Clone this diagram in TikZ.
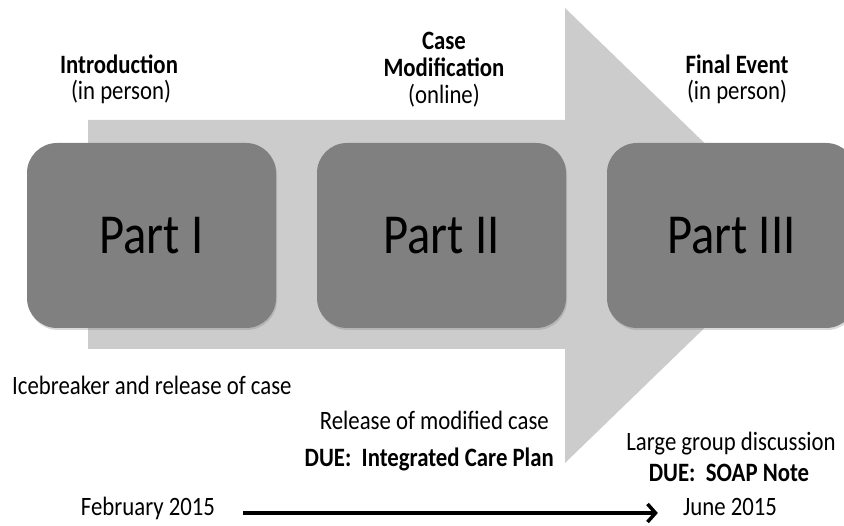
\documentclass[tikz,border=0pt]{standalone}
\usepackage{fontspec}
\setmainfont{Carlito}[FakeStretch=0.86]
\usepackage{tikz}
\usetikzlibrary{arrows.meta}
\usetikzlibrary{shadows}

\definecolor{flowgray}{RGB}{204,204,204}
\definecolor{partgray}{RGB}{128,128,128}

\begin{document}
\begin{tikzpicture}[x=1pt, y=-1pt, font=\fontsize{26.5}{28}\selectfont,
        part/.style={fill=partgray, rounded corners=30pt, minimum width=249pt, minimum height=185pt,
            font=\fontsize{56.5}{60}\selectfont, drop shadow={opacity=0.3, shadow xshift=1pt, shadow yshift=-2pt}},
        txt/.style={inner sep=0pt, anchor=base},
        date/.style={txt, text height=13pt, text depth=7pt}]
    \useasboundingbox (0,0) rectangle (844,526);
    % big background arrow
    \fill[flowgray] (88,120) -- (565,120) -- (565,8) -- (800,235.5) -- (565,463) -- (565,349) -- (88,349) -- cycle;
    % the three parts
    \node[part] (p1) at (151.5,235.5) {Part I};
    \node[part] (p2) at (441.5,235.5) {Part II};
    \node[part] (p3) at (731.5,235.5) {Part III};
    % headings
    \node[txt] (intro) at (119,74) {\textbf{Introduction}};
    \node[txt] (introsub) at (121,100) {(in person)};
    \node[txt] (modA) at (444,50) {\textbf{Case}};
    \node[txt] (modB) at (444,77) {\textbf{Modification}};
    \node[txt] (modsub) at (444,104) {(online)};
    \node[txt] (final) at (737,74) {\textbf{Final Event}};
    \node[txt] (finalsub) at (737,100) {(in person)};
    % tasks
    \node[txt, anchor=base west] (ice) at (12,395) {Icebreaker and release of case};
    \node[txt, anchor=base east] (rel) at (549,430) {Release of modified case};
    \node[txt, anchor=base east] (dueA) at (554,467) {\textbf{DUE:\ \ Integrated Care Plan}};
    \node[txt] (disc) at (731,451) {Large group discussion};
    \node[txt] (dueB) at (729,482) {\textbf{DUE:\ \ SOAP Note}};
    % timeline
    \node[date] (feb) at (148,516) {February 2015};
    \node[date] (june) at (730,516) {June 2015};
    \draw[line width=3.5pt, -{Straight Barb[length=8pt, width=18pt]}, shorten <=28pt, shorten >=25pt] (feb) -- (june);
\end{tikzpicture}
\end{document}
